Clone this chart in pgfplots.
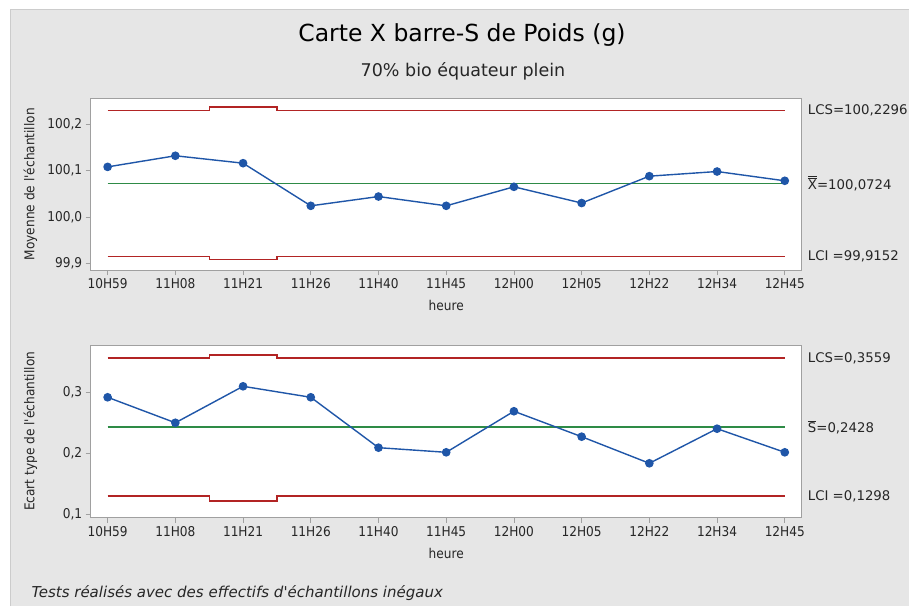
\documentclass[border=0pt]{standalone}
\usepackage{pgfplots}
\pgfplotsset{compat=1.18}
\usepackage{fontspec}
\setmainfont{DejaVu Sans Condensed}
\newfontfamily\wide{DejaVu Sans}
\definecolor{bg}{HTML}{E6E6E6}
\definecolor{axiscol}{HTML}{A0A0A0}
\definecolor{limred}{HTML}{B22424}
\definecolor{cengreen}{HTML}{2E8B46}
\definecolor{ptblue}{HTML}{1F56A8}
\newcommand{\ticksize}{\fontsize{13.5}{16}\selectfont}
\newcommand{\rsize}{\wide\fontsize{13.3}{16}\selectfont}
\tikzset{rlab/.style={anchor=west, inner sep=0pt, xshift=6pt, font=\rsize, text=black!85}}
\pgfplotsset{
  ctrl/.style={
    scale only axis, width=711pt,
    xmin=-0.25, xmax=10.25,
    xtick={0,...,10},
    xticklabels={10H59,11H08,11H21,11H26,11H40,11H45,12H00,12H05,12H22,12H34,12H45},
    axis line style={axiscol, line width=1pt},
    tick style={axiscol, line width=0.8pt},
    tick align=outside, major tick length=5pt,
    xtick pos=bottom, ytick pos=left,
    axis background/.style={fill=white},
    clip=false,
    tick label style={font=\ticksize, text=black!85},
    /pgf/number format/assume math mode=true,
    /pgf/number format/use comma,
    /pgf/number format/fixed,
    /pgf/number format/fixed zerofill,
    /pgf/number format/precision=1,
    yticklabel style={/pgf/number format/1000 sep={}},
    xlabel={heure},
    every axis x label/.style={at={(rel axis cs:0.5,0)}, anchor=north, yshift=-27pt, font=\ticksize, text=black!85},
    every axis y label/.style={at={(rel axis cs:0,0.5)}, xshift=-60.2pt, rotate=90, anchor=center, font=\ticksize, text=black!85},
  },
  mylim/.style={color=limred, line width=1.4pt, mark=none},
  mycen/.style={color=cengreen, line width=1.4pt, mark=none},
  mypts/.style={color=ptblue, line width=1.4pt, mark=*, mark size=3.6pt, mark options={fill=ptblue, draw=ptblue}},
}
\begin{document}
\begin{tikzpicture}
\useasboundingbox (0pt,0pt) rectangle (909pt,606pt);
\fill[white] (0pt,0pt) rectangle (909pt,606pt);
\fill[bg] (10pt,0pt) rectangle (909pt,596pt);
\draw[black!20, line width=1pt] (10pt,0pt) -- (10pt,596pt) -- (909pt,596pt);
\node[font=\wide\fontsize{23.5}{28}\selectfont, text=black] at (462pt,571pt) {Carte X barre-S de Poids (g)};
\node[font=\wide\fontsize{17.5}{20}\selectfont, text=black!85] at (463pt,535pt) {70\% bio équateur plein};
\node[font=\wide\itshape\fontsize{15}{17}\selectfont, text=black!85, anchor=west] at (28pt,13pt) {Tests réalisés avec des effectifs d\textquotesingle échantillons inégaux};

\begin{axis}[ctrl, at={(90.7pt,336pt)}, anchor=south west, height=171.7pt,
  ymin=99.8855, ymax=100.256, ytick={99.9,100.0,100.1,100.2},
  ylabel={Moyenne de l\textquotesingle échantillon}]
\addplot[mylim] coordinates {(0,100.2296) (1.5,100.2296) (1.5,100.237) (2.5,100.237) (2.5,100.2296) (10,100.2296)};
\addplot[mylim] coordinates {(0,99.9152) (1.5,99.9152) (1.5,99.908) (2.5,99.908) (2.5,99.9152) (10,99.9152)};
\addplot[mycen] coordinates {(0,100.0724) (10,100.0724)};
\addplot[mypts] coordinates {(0,100.108) (1,100.132) (2,100.116) (3,100.024) (4,100.044) (5,100.024) (6,100.065) (7,100.030) (8,100.088) (9,100.098) (10,100.078)};
\node[rlab] at (axis cs:10.25,100.2296) {LCS=100,2296};
\node[rlab] at (axis cs:10.25,100.0724) {$\overline{\overline{\mbox{X}}}$=100,0724};
\node[rlab] at (axis cs:10.25,99.9152) {LCI =99,9152};
\end{axis}

\begin{axis}[ctrl, at={(90.7pt,88.3pt)}, anchor=south west, height=172.7pt,
  ymin=0.0944, ymax=0.3775, ytick={0.1,0.2,0.3},
  ylabel={Ecart type de l\textquotesingle échantillon}]
\addplot[mylim] coordinates {(0,0.3559) (1.5,0.3559) (1.5,0.3614) (2.5,0.3614) (2.5,0.3559) (10,0.3559)};
\addplot[mylim] coordinates {(0,0.1298) (1.5,0.1298) (1.5,0.1216) (2.5,0.1216) (2.5,0.1298) (10,0.1298)};
\addplot[mycen] coordinates {(0,0.2428) (10,0.2428)};
\addplot[mypts] coordinates {(0,0.2918) (1,0.2500) (2,0.3098) (3,0.2918) (4,0.2092) (5,0.2016) (6,0.2689) (7,0.2272) (8,0.1836) (9,0.2403) (10,0.2016)};
\node[rlab] at (axis cs:10.25,0.3559) {LCS=0,3559};
\node[rlab] at (axis cs:10.25,0.2428) {$\overline{\mbox{S}}$=0,2428};
\node[rlab] at (axis cs:10.25,0.1298) {LCI =0,1298};
\end{axis}
\end{tikzpicture}
\end{document}
